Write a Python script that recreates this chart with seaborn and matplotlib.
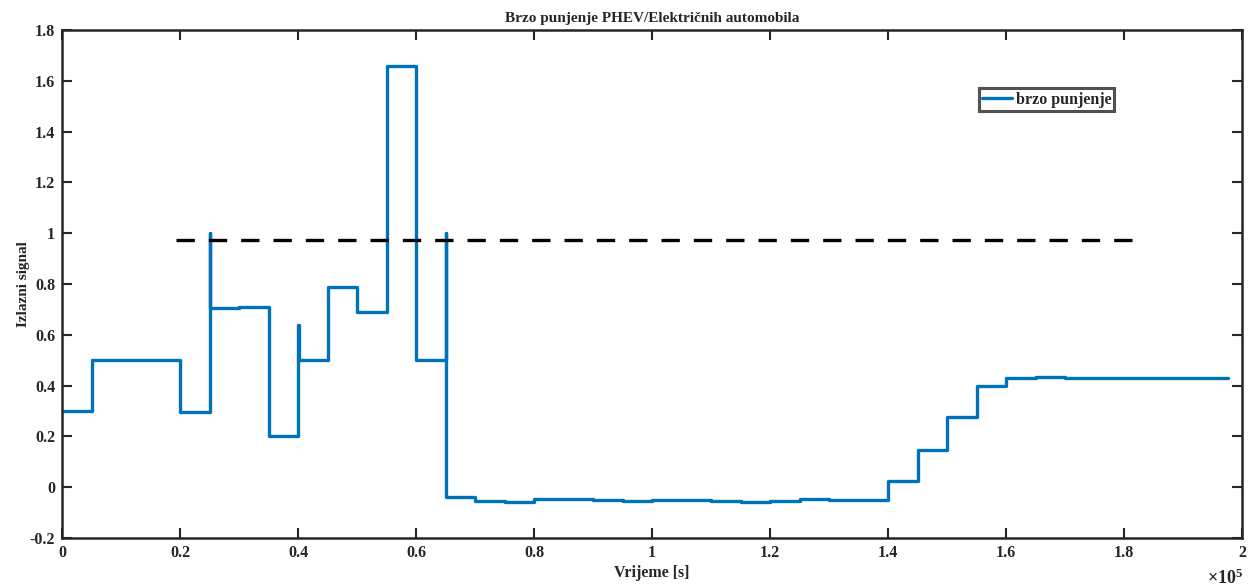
import pandas as pd
import matplotlib
matplotlib.use('Agg')
import matplotlib.pyplot as plt
import matplotlib.ticker as mticker
import seaborn as sns

# --- Dados (tempo em segundos) ---
vrijeme = [0, 5000, 20000, 25000, 25100, 30000, 35000, 40000, 40100, 45000,
           50000, 55000, 60000, 65000, 65100, 70000, 75000, 80000, 85000, 90000,
           95000, 100000, 105000, 110000, 115000, 120000, 125000, 130000, 135000,
           140000, 145000, 150000, 155000, 160000, 165000, 170000, 197700]
signal = [0.30, 0.50, 0.297, 1.0, 0.706, 0.708, 0.203, 0.638, 0.50, 0.787,
          0.69, 1.66, 0.50, 1.0, -0.04, -0.053, -0.058, -0.047, -0.046, -0.052,
          -0.055, -0.05, -0.051, -0.055, -0.058, -0.054, -0.048, -0.05, -0.05,
          0.025, 0.148, 0.278, 0.40, 0.428, 0.432, 0.43, 0.43]

prag_x = [19300, 181500]
prag_y = [0.972, 0.972]

x_ticks = [0, 20000, 40000, 60000, 80000, 100000, 120000, 140000, 160000, 180000, 200000]
y_ticks = [-0.2, 0, 0.2, 0.4, 0.6, 0.8, 1.0, 1.2, 1.4, 1.6, 1.8]

df = pd.DataFrame({'vrijeme': vrijeme, 'signal': signal})
df_prag = pd.DataFrame({'vrijeme': prag_x, 'signal': prag_y})

sns.set_style("ticks")
plt.rcParams['font.family'] = ['Liberation Serif', 'DejaVu Serif']
plt.rcParams['font.weight'] = 'bold'
plt.rcParams['mathtext.fontset'] = 'custom'
plt.rcParams['mathtext.rm'] = 'Liberation Serif'

fig = plt.figure(figsize=(12.56, 5.88), dpi=100)
ax = fig.add_axes([0.0494, 0.085, 0.9395, 0.864])

sns.lineplot(data=df, x='vrijeme', y='signal', color='#0072BD', linewidth=2.4,
             drawstyle='steps-post', estimator=None, sort=False, ax=ax,
             label='brzo punjenje')
sns.lineplot(data=df_prag, x='vrijeme', y='signal', color='black', linewidth=2.4,
             linestyle=(0, (5.5, 4.2)), estimator=None, sort=False, ax=ax,
             legend=False)

ax.set_xlim(0, 200000)
ax.set_ylim(-0.2, 1.8)
ax.set_xticks(x_ticks)
ax.set_yticks(y_ticks)
ax.xaxis.set_major_formatter(mticker.FuncFormatter(lambda v, p: f"{v / 1e5:g}"))
ax.yaxis.set_major_formatter(mticker.FuncFormatter(lambda v, p: f"{v:g}"))
ax.tick_params(direction='in', length=7, width=1.5, top=True, right=True,
               labelsize=11.5, pad=5, colors='#262626')
for lbl in ax.get_xticklabels() + ax.get_yticklabels():
    lbl.set_fontweight('bold')
for s in ax.spines.values():
    s.set_linewidth(1.8)
    s.set_color('#262626')

ax.set_xlabel('Vrijeme [s]', fontsize=11.5, fontweight='bold', labelpad=3)
ax.set_ylabel('Izlazni signal', fontsize=11, fontweight='bold', labelpad=0)
ax.set_title('Brzo punjenje PHEV/Električnih automobila', fontsize=11,
             fontweight='bold', pad=6)
fig.text(0.990, 0.016, r'$\times\mathregular{10^5}$', fontsize=13,
         ha='right', va='center', color='#262626')

leg = ax.legend(loc='upper left', bbox_to_anchor=(0.777, 0.885), fontsize=11.5,
                frameon=True, fancybox=False, handlelength=1.9, handletextpad=0.2,
                borderpad=0.2, borderaxespad=0)
leg.get_frame().set_edgecolor('#262626')
leg.get_frame().set_linewidth(2.2)
for t in leg.get_texts():
    t.set_fontweight('bold')

plt.savefig('out.png', dpi=100)
